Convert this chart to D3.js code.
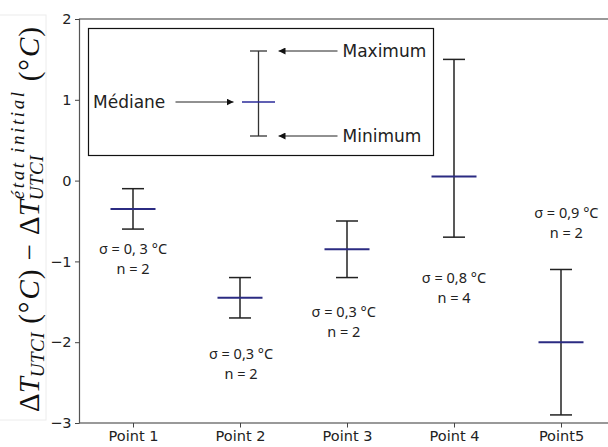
<!DOCTYPE html>
<html>
<head>
<meta charset="utf-8">
<script src="https://cdn.jsdelivr.net/npm/d3@7"></script>
<style>
  body { margin: 0; background: #fff; }
  svg { display: block; }
</style>
</head>
<body>
<div id="main"></div>
<script>
// data
const categories = ['Point 1', 'Point 2', 'Point 3', 'Point 4', 'Point5'];
const maxVals = [-0.1, -1.2, -0.5, 1.5, -1.1];
const medVals = [-0.35, -1.45, -0.85, 0.05, -2.0];
const minVals = [-0.6, -1.7, -1.2, -0.7, -2.9];
const sigmaLabels = ['σ = 0, 3 °C', 'σ = 0,3 °C', 'σ = 0,3 °C', 'σ = 0,8 °C', 'σ = 0,9 °C'];
const nLabels = ['n = 2', 'n = 2', 'n = 2', 'n = 4', 'n = 2'];
// where the text sits, in data units (like ax.text)
const noteX = [0, 0.01, -0.03, 0, 0.05];
const noteY = [-0.85, -2.15, -1.62, -1.2, -0.4];
const yTicks = [-3, -2, -1, 0, 1, 2];

const width = 608, height = 447;
const plot = { left: 79.5, top: 19, bottom: 423, right: 614.5 };

const svg = d3.select('#main').append('svg')
  .attr('width', width)
  .attr('height', height);

const xScale = d3.scaleLinear()
  .domain([-0.5, categories.length - 0.5])
  .range([plot.left, plot.right]);

const yScale = d3.scaleLinear()
  .domain([-3, 2])
  .range([plot.bottom, plot.top]);

// faint frame of the pasted label image
svg.append('rect')
  .attr('x', -1).attr('y', 15).attr('width', 47).attr('height', 405)
  .attr('fill', 'none').attr('stroke', '#ececec');

// spines
svg.append('rect')
  .attr('x', plot.left).attr('y', plot.top)
  .attr('width', plot.right - plot.left).attr('height', plot.bottom - plot.top)
  .attr('fill', 'none').attr('stroke', '#555').attr('stroke-width', 1.2);

const yAxis = svg.append('g')
  .attr('transform', `translate(${plot.left},0)`)
  .call(d3.axisLeft(yScale).tickValues(yTicks).tickSize(4.5).tickPadding(3.5)
    .tickFormat((d) => d < 0 ? '\u2212' + Math.abs(d) : d));
yAxis.select('.domain').remove();

const xAxis = svg.append('g')
  .attr('transform', `translate(0,${plot.bottom})`)
  .call(d3.axisBottom(xScale).tickValues(d3.range(categories.length)).tickSize(4.5).tickPadding(3)
    .tickFormat((i) => categories[i]));
xAxis.select('.domain').remove();

svg.selectAll('.tick line').attr('stroke', '#444').attr('stroke-width', 1);
svg.selectAll('.tick text')
  .attr('fill', '#222')
  .style('font-family', 'DejaVu Sans')
  .style('font-size', '14.5px');

// error bars
const capHalf = 11, medHalf = 22.5;
const bars = svg.append('g').selectAll('g')
  .data(categories.map((c, i) => ({ i, max: maxVals[i], med: medVals[i], min: minVals[i] })))
  .enter().append('g');

bars.append('line')
  .attr('x1', (d) => xScale(d.i)).attr('x2', (d) => xScale(d.i))
  .attr('y1', (d) => yScale(d.max)).attr('y2', (d) => yScale(d.min))
  .attr('stroke', '#222').attr('stroke-width', 1.5);
bars.selectAll('.cap')
  .data((d) => [d.max, d.min].map((y) => ({ i: d.i, y })))
  .enter().append('line')
  .attr('class', 'cap')
  .attr('x1', (d) => xScale(d.i) - capHalf).attr('x2', (d) => xScale(d.i) + capHalf)
  .attr('y1', (d) => yScale(d.y)).attr('y2', (d) => yScale(d.y))
  .attr('stroke', '#222').attr('stroke-width', 1.5);
bars.append('line')
  .attr('x1', (d) => xScale(d.i) - medHalf).attr('x2', (d) => xScale(d.i) + medHalf)
  .attr('y1', (d) => yScale(d.med)).attr('y2', (d) => yScale(d.med))
  .attr('stroke', '#2b2b82').attr('stroke-width', 2);

// sigma / n notes
const notes = svg.append('g')
  .style('font-family', 'Noto Sans')
  .style('font-size', '14.5px')
  .attr('fill', '#222')
  .attr('text-anchor', 'middle');
categories.forEach((c, i) => {
  const x = xScale(i + noteX[i]);
  const y = yScale(noteY[i]);
  notes.append('text').attr('x', x).attr('y', y).attr('dy', '0.35em').text(sigmaLabels[i]);
  notes.append('text').attr('x', x).attr('y', y + 20).attr('dy', '0.35em').text(nLabels[i]);
});

// legend (explanatory inset)
svg.append('defs').append('marker')
  .attr('id', 'head')
  .attr('viewBox', '0 0 10 10')
  .attr('refX', 10).attr('refY', 5)
  .attr('markerWidth', 7).attr('markerHeight', 7)
  .attr('markerUnits', 'userSpaceOnUse')
  .attr('orient', 'auto')
  .append('path').attr('d', 'M0,0L10,5L0,10Z').attr('fill', '#111');

const legend = svg.append('g').attr('transform', 'translate(88.5,28.5)');
legend.append('rect')
  .attr('width', 345).attr('height', 127)
  .attr('fill', '#fff').attr('stroke', '#111').attr('stroke-width', 1.2);

const lx = 170, lTop = 22.5, lMed = 73.5, lBot = 107.5;
legend.append('line').attr('x1', lx).attr('x2', lx).attr('y1', lTop).attr('y2', lBot)
  .attr('stroke', '#333').attr('stroke-width', 1.3);
[lTop, lBot].forEach((y) => {
  legend.append('line').attr('x1', lx - 8.5).attr('x2', lx + 8.5).attr('y1', y).attr('y2', y)
    .attr('stroke', '#333').attr('stroke-width', 1.3);
});
legend.append('line').attr('x1', lx - 16.5).attr('x2', lx + 16.5).attr('y1', lMed).attr('y2', lMed)
  .attr('stroke', '#2b2b9a').attr('stroke-width', 1.6);

const arrows = [
  { x1: 249, x2: 190, y: lTop },
  { x1: 249, x2: 190, y: lBot },
  { x1: 87, x2: 145, y: lMed }
];
arrows.forEach((a) => {
  legend.append('line')
    .attr('x1', a.x1).attr('x2', a.x2).attr('y1', a.y).attr('y2', a.y)
    .attr('stroke', '#222').attr('stroke-width', 1)
    .attr('marker-end', 'url(#head)');
});

const legendText = [
  { x: 254, y: lTop, s: 'Maximum' },
  { x: 254, y: lBot, s: 'Minimum' },
  { x: 4.5, y: lMed, s: 'Médiane' }
];
legendText.forEach((t) => {
  legend.append('text')
    .attr('x', t.x).attr('y', t.y).attr('dy', '0.36em')
    .style('font-family', 'DejaVu Sans').style('font-size', '17px')
    .attr('fill', '#222')
    .text(t.s);
});

// y label, flowed piece by piece like an equation
// gap = space before the piece, stack = drawn over the previous piece
const label = svg.append('g')
  .attr('transform', 'translate(39,412) rotate(-90)')
  .style('font-family', 'Liberation Serif, DejaVu Serif, serif')
  .attr('fill', '#111');
const main = 29, small = 19;
const pieces = [
  { s: 'Δ', size: main, it: false, dy: 0, gap: 0, ls: 0 },
  { s: 'T', size: main, it: true, dy: 0, gap: 0, ls: 0 },
  { s: 'UTCI', size: small, it: true, dy: 4.5, gap: 0, ls: 0.5 },
  { s: '(°', size: main, it: false, dy: 0, gap: 8, ls: 1 },
  { s: 'C', size: main, it: true, dy: 0, gap: 1, ls: 0 },
  { s: ')', size: main, it: false, dy: 0, gap: 1, ls: 0 },
  { s: '\u2212', size: main, it: false, dy: 0, gap: 9, ls: 0 },
  { s: 'Δ', size: main, it: false, dy: 0, gap: 9, ls: 0 },
  { s: 'T', size: main, it: true, dy: 0, gap: 0, ls: 0 },
  { s: 'UTCI', size: small, it: true, dy: 4, gap: 0, ls: 0.5 },
  { s: 'état initial', size: small, it: true, dy: -15.5, gap: 0, ls: 2.6, stack: true },
  { s: '(°', size: main, it: false, dy: 0, gap: 8, ls: 1 },
  { s: 'C', size: main, it: true, dy: 0, gap: 1, ls: 0 },
  { s: ')', size: main, it: false, dy: 0, gap: 1, ls: 0 }
];
const nodes = pieces.map((p) => label.append('text')
  .attr('y', p.dy)
  .style('font-size', p.size + 'px')
  .style('font-style', p.it ? 'italic' : 'normal')
  .style('letter-spacing', p.ls + 'px')
  .text(p.s));
const widths = nodes.map((n) => n.node().getComputedTextLength());
// stretch the gaps so the label spans what it spans in the picture
const span = 384;
let glyphs = 0, gaps = 0, prevStart = 0, prevW = 0;
pieces.forEach((p, i) => {
  if (p.stack) { glyphs += Math.max(0, widths[i] - prevW); prevW = Math.max(prevW, widths[i]); }
  else { glyphs += widths[i]; gaps += p.gap; prevW = widths[i]; }
});
const k = Math.max(0.3, (span - glyphs) / gaps);
let cursor = 0;
prevStart = 0; prevW = 0;
pieces.forEach((p, i) => {
  let x;
  if (p.stack) {
    x = prevStart + 1;
    prevW = Math.max(prevW, widths[i] + 1);
    cursor = prevStart + prevW;
  } else {
    x = cursor + p.gap * k;
    prevStart = x; prevW = widths[i];
    cursor = x + widths[i];
  }
  nodes[i].attr('x', x);
});
</script>
</body>
</html>
